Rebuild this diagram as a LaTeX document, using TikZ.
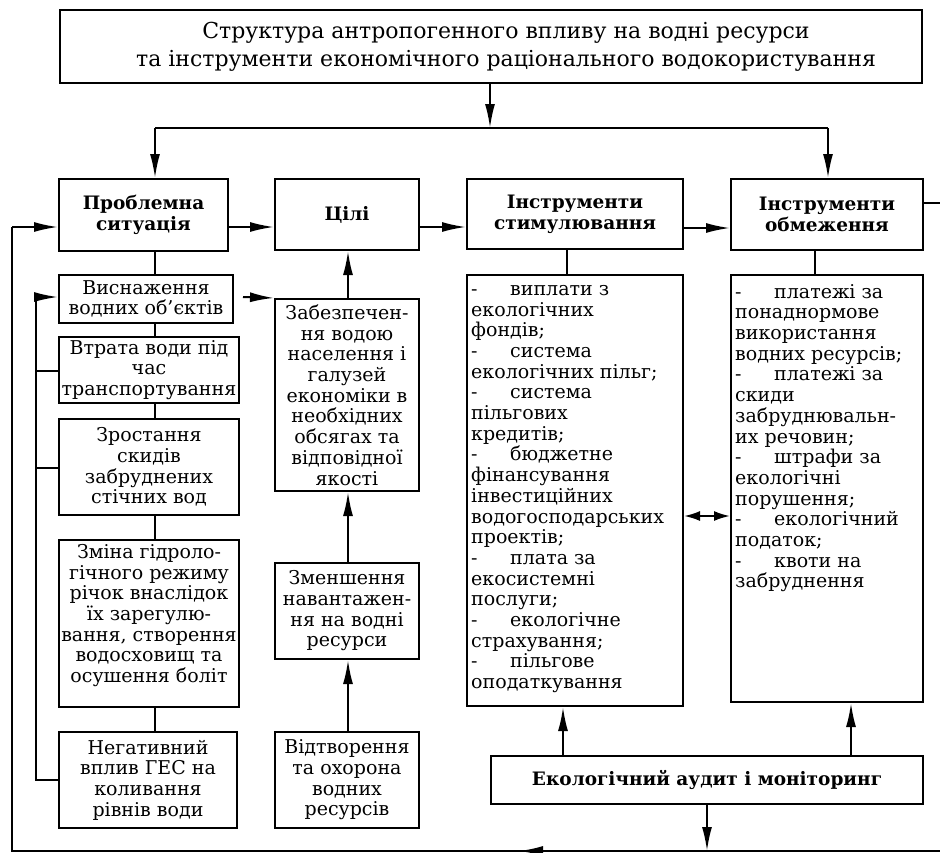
\documentclass[tikz,border=0pt]{standalone}
\usepackage{fontspec}
\setmainfont{DejaVu Serif}
\usetikzlibrary{arrows.meta}
\begin{document}
\begin{tikzpicture}[x=1pt,y=-1pt,
  bodyfont/.style={font=\fontsize{19}{20.7}\selectfont},
  box/.style={draw,line width=2pt,inner sep=0pt,align=center,bodyfont},
  hbox/.style={box,font=\fontsize{18.5}{20.7}\selectfont\bfseries},
  txt/.style={inner sep=0pt,align=left,bodyfont},
  ln/.style={line width=2pt},
  arr/.style={ln,-{Latex[length=24pt,width=10pt]}},
  darr/.style={ln,{Latex[length=16pt,width=10pt]}-{Latex[length=16pt,width=10pt]}}
]
\useasboundingbox (0,0) rectangle (940,852);
\fill[white] (0,0) rectangle (940,852);

% header
\node[box,minimum width=862pt,minimum height=73pt,font=\fontsize{22}{28}\selectfont] (title) at (491,46.5) {\hspace*{30pt}Структура антропогенного впливу на водні ресурси\\\hspace*{30pt}та інструменти економічного раціонального водокористування};

\node[hbox,minimum width=169pt,minimum height=72pt] (prob) at (143.5,215) {Проблемна\\ситуація};
\node[hbox,minimum width=144pt,minimum height=71pt] (goal) at (347,214.5) {Цілі};
\node[hbox,minimum width=216pt,minimum height=70pt] (stim) at (575,214) {Інструменти\\стимулювання};
\node[hbox,minimum width=192pt,minimum height=71pt] (obm) at (827,214.5) {Інструменти\\обмеження};

% left column
\node[box,minimum width=174pt,minimum height=48pt] (vysn) at (146,299) {Виснаження\\водних об’єктів};
\node[box,minimum width=180pt,minimum height=66pt] (vtrata) at (149,370) {Втрата води під\\час\\транспортування};
\node[box,minimum width=180pt,minimum height=96pt] (zrost) at (149,467) {Зростання\\скидів\\забруднених\\стічних вод};
\node[box,minimum width=180pt,minimum height=167pt] (zmina) at (149,623.5) {};
\node[txt,align=center,anchor=north] (zminat) at (149,544) {Зміна гідроло-\\гічного режиму\\річок внаслідок\\їх зарегулю-\\вання, створення\\водосховищ та\\осушення боліт};
\node[box,minimum width=178pt,minimum height=96pt] (neg) at (148,780) {Негативний\\вплив ГЕС на\\коливання\\рівнів води};

% goals column
\node[box,minimum width=144pt,minimum height=192pt] (zab) at (347,395) {Забезпечен-\\ня водою\\населення і\\галузей\\економіки в\\необхідних\\обсягах та\\відповідної\\якості};
\node[box,minimum width=144pt,minimum height=96pt] (zmen) at (347,611) {Зменшення\\навантажен-\\ня на водні\\ресурси};
\node[box,minimum width=144pt,minimum height=96pt] (vidt) at (347,780) {Відтворення\\та охорона\\водних\\ресурсів};

% instrument lists
\node[box,minimum width=216pt,minimum height=431pt] (stimlist) at (575,490.5) {};
\node[txt,anchor=north west] (stimt) at (471,285) {\makebox[39pt][l]{-}виплати з\\екологічних\\фондів;\\\makebox[39pt][l]{-}система\\екологічних пільг;\\\makebox[39pt][l]{-}система\\пільгових\\кредитів;\\\makebox[39pt][l]{-}бюджетне\\фінансування\\інвестиційних\\водогосподарських\\проектів;\\\makebox[39pt][l]{-}плата за\\екосистемні\\послуги;\\\makebox[39pt][l]{-}екологічне\\страхування;\\\makebox[39pt][l]{-}пільгове\\оподаткування};
\node[box,minimum width=192pt,minimum height=427pt] (obmlist) at (827,488.5) {};
\node[txt,anchor=north west] (obmt) at (735,284) {\makebox[39pt][l]{-}платежі за\\понаднормове\\використання\\водних ресурсів;\\\makebox[39pt][l]{-}платежі за\\скиди\\забруднювальн-\\их речовин;\\\makebox[39pt][l]{-}штрафи за\\екологічні\\порушення;\\\makebox[39pt][l]{-}екологічний\\податок;\\\makebox[39pt][l]{-}квоти на\\забруднення};

\node[hbox,minimum width=432pt,minimum height=48pt] (audit) at (707,780) {Екологічний аудит і моніторинг};

% coordinates
\coordinate (hl) at (490,128);
\coordinate (hlL) at (155,128);
\coordinate (hlR) at (828,128);
\coordinate (outerTop) at (12,227);
\coordinate (outerBot) at (12,851);
\coordinate (rightEnd) at (942,203);
\coordinate (botRight) at (942,851);
\coordinate (botArrow) at (519,851);
\coordinate (auditDown) at (707,851);
\coordinate (innerTop) at (36,297);
\coordinate (innerBot) at (36,780);
\coordinate (vysnOut) at (243,297);

% title connectors
\draw[arr] (title.south -| hl) -- (hl);
\draw[ln] (hlL) -- (hlR);
\draw[arr] (hlL) -- (prob.north -| hlL);
\draw[arr] (hlR) -- (obm.north -| hlR);

% header row arrows
\draw[arr] (prob.east |- 0,227) -- (goal.west |- 0,227);
\draw[arr] (goal.east |- 0,227) -- (stim.west |- 0,227);
\draw[arr] (stim.east |- 0,228) -- (obm.west |- 0,228);
\draw[ln] (obm.east |- rightEnd) -- (rightEnd);

% outer feedback loop
\draw[ln] (botRight) -- (outerBot) -- (outerTop);
\draw[arr] (outerTop) -- (prob.west |- outerTop);
\draw[arr] (botRight) -- (botArrow);
\draw[arr] (audit.south -| auditDown) -- (auditDown);

% left chain
\draw[ln] (prob.south -| hlL) -- (vysn.north -| hlL);
\draw[ln] (vysn.south -| hlL) -- (vtrata.north -| hlL);
\draw[ln] (vtrata.south -| hlL) -- (zrost.north -| hlL);
\draw[ln] (zrost.south -| hlL) -- (zmina.north -| hlL);
\draw[ln] (zmina.south -| hlL) -- (neg.north -| hlL);

% inner left line
\draw[ln] (innerTop) -- (innerBot) -- (neg.west |- innerBot);
\draw[arr] (innerTop) -- (vysn.west |- innerTop);
\draw[ln] (innerTop |- 0,371) -- (vtrata.west |- 0,371);
\draw[ln] (innerTop |- 0,468) -- (zrost.west |- 0,468);

\draw[arr] (vysnOut) -- (zab.north west);

% goals chain
\draw[arr] (zab.north -| 348,0) -- (goal.south -| 348,0);
\draw[arr] (zmen.north -| 348,0) -- (zab.south -| 348,0);
\draw[arr] (vidt.north -| 348,0) -- (zmen.south -| 348,0);

% instruments
\draw[ln] (stim.south -| 567,0) -- (stimlist.north -| 567,0);
\draw[ln] (obm.south -| 815,0) -- (obmlist.north -| 815,0);
\draw[darr] (stimlist.east |- 0,516) -- (obmlist.west |- 0,516);
\draw[arr] (audit.north -| 563,0) -- (stimlist.south -| 563,0);
\draw[arr] (audit.north -| 851,0) -- (obmlist.south -| 851,0);
\end{tikzpicture}
\end{document}
